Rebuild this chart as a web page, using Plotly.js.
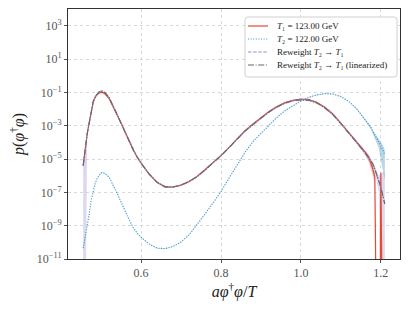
<!DOCTYPE html>
<html>
<head>
<meta charset="utf-8">
<script src="https://cdn.plot.ly/plotly-3.0.1.min.js"></script>
<style>html,body{margin:0;padding:0;background:#fff}#chart{width:415px;height:311px}</style>
</head>
<body>
<div id="chart"></div>
<script>
// bin centres a·phi†phi/T
var xBins = [0.455,0.46,0.465,0.47,0.475,0.48,0.485,0.49,0.495,0.50,0.505,0.51,
  0.52,0.53,0.54,0.55,0.56,0.57,0.58,0.59,0.60,
  0.62,0.64,0.66,0.68,0.70,0.72,0.74,0.76,0.78,0.80,0.82,0.84,0.86,0.88,0.90,0.92,0.94,0.96,0.98,
  1.00,1.02,1.04,1.06,1.08,1.10,1.12,1.14,1.16,
  1.17,1.175,1.18,1.185,1.19,1.195,1.20,1.205,1.21];

// log10 p(phi†phi); null = empty bin (p = 0)
var log10P_T1 = [-5.4,-4.4,-3.5,-2.85,-2.1,-1.6,-1.3,-1.13,-1.04,-1.0,-1.02,-1.1,
  -1.38,-1.85,-2.35,-2.85,-3.4,-3.95,-4.45,-4.88,-5.25,
  -5.9,-6.4,-6.67,-6.68,-6.57,-6.35,-6.05,-5.65,-5.2,-4.8,-4.3,-3.8,-3.3,-2.9,-2.5,-2.15,-1.85,-1.62,-1.48,
  -1.4,-1.43,-1.6,-1.9,-2.3,-2.85,-3.4,-4.0,-4.55,
  -4.9,-5.2,-5.6,-6.1,null,null,-5.85,null,null];

var log10P_T2 = [-10.35,-9.7,-9.05,-8.3,-7.5,-6.9,-6.45,-6.15,-5.95,-5.83,-5.82,-5.88,
  -6.1,-6.55,-7.05,-7.6,-8.15,-8.65,-9.1,-9.45,-9.7,
  -10.1,-10.35,-10.38,-10.25,-9.98,-9.55,-8.95,-8.3,-7.65,-6.95,-6.15,-5.35,-4.6,-3.95,-3.45,-2.95,-2.5,-2.1,-1.8,
  -1.52,-1.3,-1.15,-1.08,-1.1,-1.25,-1.55,-2.0,-2.6,
  -2.95,-3.1,-3.35,-3.55,-3.75,-3.95,-4.2,-4.45,-4.75];

var log10P_RW = [-5.4,-4.4,-3.5,-2.85,-2.08,-1.57,-1.26,-1.08,-0.98,-0.93,-0.95,-1.03,
  -1.33,-1.82,-2.33,-2.84,-3.4,-3.95,-4.45,-4.88,-5.25,
  -5.9,-6.4,-6.67,-6.68,-6.57,-6.36,-6.06,-5.67,-5.22,-4.82,-4.32,-3.82,-3.33,-2.93,-2.53,-2.18,-1.88,-1.65,-1.5,
  -1.44,-1.47,-1.63,-1.93,-2.33,-2.87,-3.42,-4.02,-4.6,
  -4.95,-5.15,-5.3,-5.6,-5.95,-6.3,-6.7,-7.2,-7.7];

var log10P_RWlin = [-5.4,-4.4,-3.5,-2.85,-2.07,-1.56,-1.25,-1.07,-0.97,-0.92,-0.94,-1.02,
  -1.32,-1.81,-2.33,-2.84,-3.4,-3.95,-4.45,-4.88,-5.25,
  -5.9,-6.4,-6.67,-6.68,-6.57,-6.36,-6.06,-5.67,-5.22,-4.82,-4.32,-3.82,-3.33,-2.93,-2.53,-2.18,-1.88,-1.65,-1.5,
  -1.45,-1.48,-1.64,-1.94,-2.34,-2.88,-3.43,-4.03,-4.6,
  -4.95,-5.15,-5.3,-5.6,-5.95,-6.3,-6.7,-7.2,-7.7];

// relative statistical errors
var relErr_T1 = [0.3,0.1,0.05,0.05,0.05,0.05,0.05,0.05,0.05,0.05,0.05,0.05,
  0.05,0.05,0.05,0.05,0.05,0.05,0.05,0.05,0.05,
  0.05,0.05,0.05,0.05,0.05,0.05,0.05,0.05,0.05,0.05,0.05,0.05,0.05,0.05,0.05,0.05,0.05,0.05,0.05,
  0.05,0.05,0.05,0.05,0.05,0.05,0.08,0.15,0.3,
  0.45,0.55,0.6,0.7,0,0,0.8,0,0];
var relErr_T2 = [0.3,0.1,0.05,0.05,0.05,0.05,0.05,0.05,0.05,0.05,0.05,0.05,
  0.05,0.05,0.05,0.05,0.05,0.05,0.05,0.05,0.05,
  0.05,0.05,0.05,0.05,0.05,0.05,0.05,0.05,0.05,0.05,0.05,0.05,0.05,0.05,0.05,0.05,0.05,0.05,0.05,
  0.05,0.05,0.05,0.05,0.05,0.05,0.05,0.08,0.1,
  0.15,0.2,0.25,0.3,0.4,0.6,0.85,0.95,0.97];
var relErr_RW = [1.5,1.2,0.2,0.12,0.12,0.12,0.12,0.12,0.12,0.12,0.12,0.12,
  0.12,0.12,0.12,0.12,0.12,0.12,0.12,0.12,0.12,
  0.12,0.12,0.12,0.12,0.12,0.12,0.12,0.12,0.12,0.12,0.12,0.12,0.12,0.12,0.12,0.12,0.12,0.12,0.12,
  0.12,0.12,0.12,0.12,0.12,0.12,0.15,0.2,0.3,
  0.35,0.4,0.45,0.5,0.6,0.8,7,24,78];

var legendNames = ['<i>T</i>₁ = 123.00 GeV',
                   '<i>T</i>₂ = 122.00 GeV',
                   'Reweight <i>T</i>₂ → <i>T</i>₁',
                   'Reweight <i>T</i>₂ → <i>T</i>₁ (linearized)'];
var yTickExp = [-11,-9,-7,-5,-3,-1,1,3];

// ---- helpers ----
var FLOOR = 1e-30; // non-positive values clipped like matplotlib's log 'clip'
function toP(arr){ return arr.map(function(v){ return v === null ? 0 : Math.pow(10, v); }); }
function clip(arr){ return arr.map(function(v){ return v > 0 ? v : FLOOR; }); }

var pT1 = toP(log10P_T1), pT2 = toP(log10P_T2), pRW = toP(log10P_RW), pRWl = toP(log10P_RWlin);

function band(p, err, color){
  var lo = p.map(function(v,i){ return v*(1-err[i]); });
  var hi = p.map(function(v,i){ return v*(1+err[i]); });
  return [
    {x:xBins, y:clip(lo), mode:'lines', line:{width:0, color:color}, showlegend:false, hoverinfo:'skip'},
    {x:xBins, y:clip(hi), mode:'lines', line:{width:0, color:color}, fill:'tonexty', fillcolor:color, showlegend:false, hoverinfo:'skip'}
  ];
}

var styles = [
  {color:'#E24A33', width:1.2},
  {color:'#3c98d0', width:1.2, dash:'1px,1.6px'},
  {color:'#988ED5', width:1.1, dash:'3.5px,1.6px'},
  {color:'#666666', width:1.1, dash:'6px,1.6px,1px,1.6px'}
];

var traces = [];
traces = traces.concat(band(pT1, relErr_T1, 'rgba(226,74,51,0.3)'));
traces = traces.concat(band(pT2, relErr_T2, 'rgba(52,138,189,0.35)'));
traces = traces.concat(band(pRW, relErr_RW, 'rgba(152,142,213,0.35)'));
[pT1, pT2, pRW, pRWl].forEach(function(p, i){
  traces.push({x:xBins, y:clip(p), mode:'lines', name:legendNames[i], line:styles[i], showlegend:false});
});

// compact matplotlib-style legend (paper coordinates)
var shapes = [], annotations = [];
var lgX0 = 0.533, lgX1 = 0.991, lgY0 = 0.728, lgY1 = 0.968, rx = 0.009, ry = 0.012;
shapes.push({type:'path', xref:'paper', yref:'paper', layer:'above',
  path:'M'+(lgX0+rx)+','+lgY1+' L'+(lgX1-rx)+','+lgY1+' Q'+lgX1+','+lgY1+' '+lgX1+','+(lgY1-ry)+
       ' L'+lgX1+','+(lgY0+ry)+' Q'+lgX1+','+lgY0+' '+(lgX1-rx)+','+lgY0+
       ' L'+(lgX0+rx)+','+lgY0+' Q'+lgX0+','+lgY0+' '+lgX0+','+(lgY0+ry)+
       ' L'+lgX0+','+(lgY1-ry)+' Q'+lgX0+','+lgY1+' '+(lgX0+rx)+','+lgY1+' Z',
  fillcolor:'rgba(255,255,255,0.9)', line:{color:'#d0d0d0', width:1}});
var rowY = [0.932, 0.880, 0.828, 0.776];
legendNames.forEach(function(name, i){
  shapes.push({type:'line', xref:'paper', yref:'paper', layer:'above',
    x0:0.5422, x1:0.6024, y0:rowY[i], y1:rowY[i], line:styles[i]});
  annotations.push({xref:'paper', yref:'paper', x:0.6235, y:rowY[i], xanchor:'left', yanchor:'middle',
    showarrow:false, text:name, font:{family:'Liberation Serif, DejaVu Serif, serif', size:9, color:'#222'}});
});

var serif = 'Liberation Serif, DejaVu Serif, serif';
var layout = {
  width:415, height:311,
  margin:{l:68, r:15, t:9, b:52},
  paper_bgcolor:'#fff', plot_bgcolor:'#fff',
  font:{family:serif, color:'#555'},
  showlegend:false,
  shapes:shapes, annotations:annotations,
  xaxis:{range:[0.417,1.248], tickvals:[0.6,0.8,1.0,1.2], ticktext:['0.6','0.8','1.0','1.2'],
         showgrid:true, gridcolor:'#cfcfcf', griddash:'dot', gridwidth:0.8,
         showline:true, linecolor:'#333', linewidth:1, mirror:true, zeroline:false,
         ticks:'outside', ticklen:3, tickcolor:'#555',
         tickfont:{family:serif, size:12, color:'#555'},
         title:{text:'<i>aφ</i><sup>†</sup><i>φ</i>/<i>T</i>', font:{family:serif, size:16, color:'#222'}, standoff:6}},
  yaxis:{type:'log', range:[-11,4], tickvals:yTickExp.map(function(e){return Math.pow(10,e);}),
         ticktext:yTickExp.map(function(e){return '10<sup>'+(e<0?'−'+(-e):e)+'</sup>';}),
         showgrid:true, gridcolor:'#cfcfcf', griddash:'dot', gridwidth:0.8,
         showline:true, linecolor:'#333', linewidth:1, mirror:true, zeroline:false,
         ticks:'outside', ticklen:3, tickcolor:'#555',
         tickfont:{family:serif, size:12, color:'#555'},
         title:{text:'<i>p</i>(<i>φ</i><sup>†</sup><i>φ</i>)', font:{family:serif, size:16, color:'#222'}, standoff:8}}
};
Plotly.newPlot('chart', traces, layout, {staticPlot:true, displayModeBar:false});
</script>
</body>
</html>
